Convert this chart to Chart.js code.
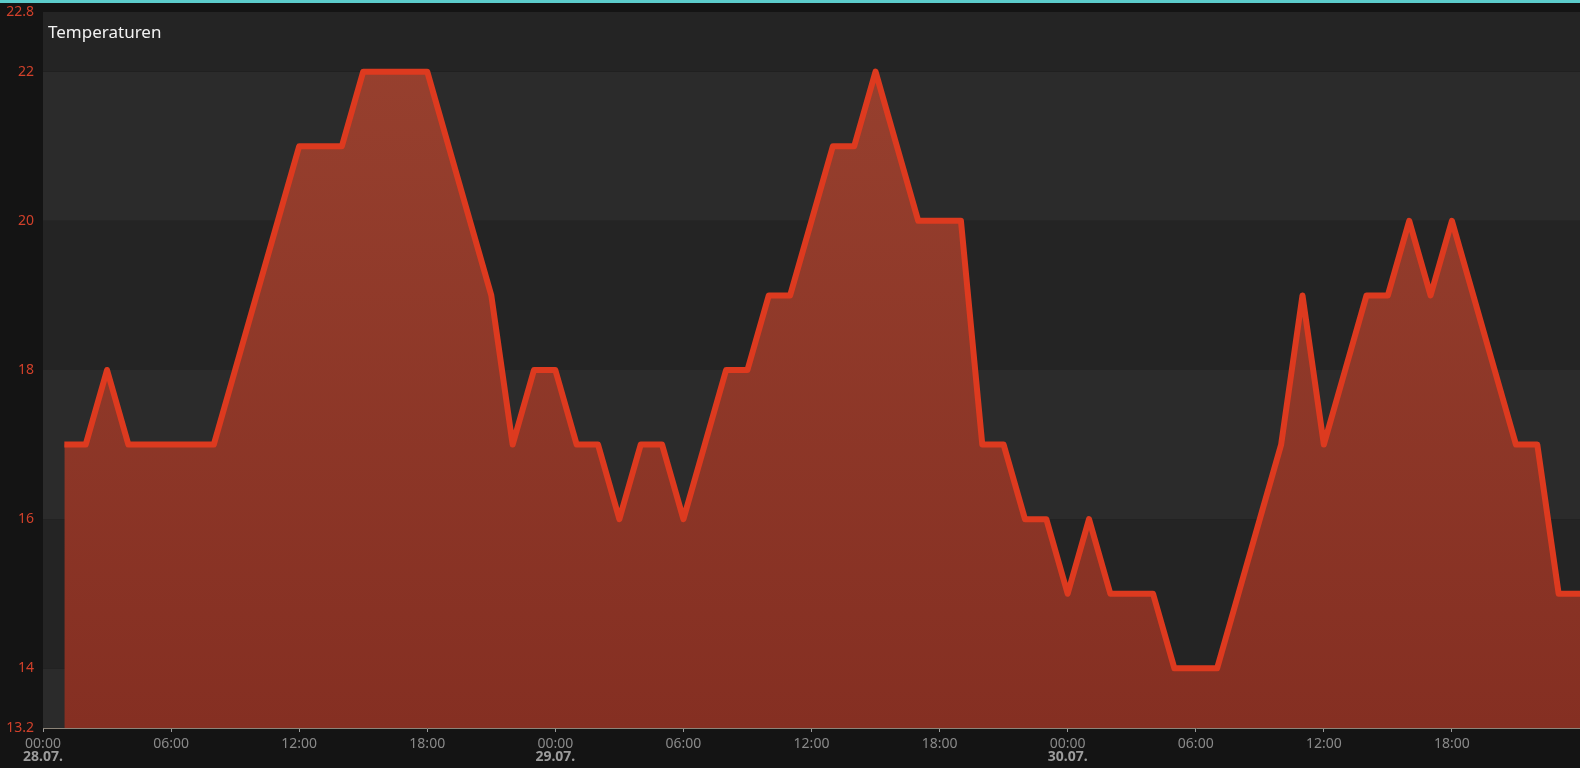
<!DOCTYPE html>
<html>
<head>
<meta charset="utf-8">
<script src="https://cdn.jsdelivr.net/npm/chart.js@4"></script>
<style>
  html, body { margin: 0; padding: 0; background: #141414; overflow: hidden; }
  canvas { display: block; }
</style>
</head>
<body>
<canvas id="chart" width="1580" height="768"></canvas>
<script>
// Stunden ab 28.07. 00:00
const hours = [1, 2, 3, 4, 5, 6, 7, 8, 9, 10, 11, 12, 13, 14, 15, 16, 17, 18, 19, 20, 21, 22, 23, 24,
  25, 26, 27, 28, 29, 30, 31, 32, 33, 34, 35, 36, 37, 38, 39, 40, 41, 42, 43, 44, 45, 46, 47, 48,
  49, 50, 51, 52, 53, 54, 55, 56, 57, 58, 59, 60, 61, 62, 63, 64, 65, 66, 67, 68, 69, 70, 71, 72];
const temperaturen = [17, 17, 18, 17, 17, 17, 17, 17, 18, 19, 20, 21, 21, 21, 22, 22, 22, 22, 21, 20, 19, 17, 18, 18,
  17, 17, 16, 17, 17, 16, 17, 18, 18, 19, 19, 20, 21, 21, 22, 21, 20, 20, 20, 17, 17, 16, 16, 15,
  16, 15, 15, 15, 14, 14, 14, 15, 16, 17, 19, 17, 18, 19, 19, 20, 19, 20, 19, 18, 17, 17, 15, 15];
const yTicks = [13.2, 14, 16, 18, 20, 22, 22.8];
const hourTicks = [0, 6, 12, 18, 24, 30, 36, 42, 48, 54, 60, 66];
const dayTicks = [0, 24, 48];
const dayLabels = ['28.07.', '29.07.', '30.07.'];

const FONT = '"Noto Sans", sans-serif';

const hintergrund = {
  id: 'hintergrund',
  beforeDraw(chart) {
    const ctx = chart.ctx;
    const area = chart.chartArea;
    const y = chart.scales.y;
    ctx.save();
    ctx.fillStyle = '#141414';
    ctx.fillRect(0, 0, chart.width, chart.height);
    for (let i = 0; i < yTicks.length - 1; i++) {
      const top = y.getPixelForValue(yTicks[i + 1]);
      const bottom = y.getPixelForValue(yTicks[i]);
      ctx.fillStyle = (yTicks.length - 2 - i) % 2 === 0 ? '#242424' : '#2b2b2b';
      ctx.fillRect(area.left, top, area.right - area.left, bottom - top);
    }
    ctx.restore();
  },
  afterDraw(chart) {
    const ctx = chart.ctx;
    ctx.save();
    ctx.fillStyle = '#5ccccb';
    ctx.fillRect(0, 0, chart.width, 3);
    ctx.fillStyle = '#f2f2f2';
    ctx.font = '17px ' + FONT;
    ctx.textBaseline = 'middle';
    ctx.fillText('Temperaturen', chart.chartArea.left + 5, 33);
    ctx.restore();
  }
};

function fuellung(context) {
  const area = context.chart.chartArea;
  if (!area) return '#8a3326';
  const g = context.chart.ctx.createLinearGradient(0, area.top, 0, area.bottom);
  g.addColorStop(0, '#98412f');
  g.addColorStop(1, '#852f22');
  return g;
}

new Chart(document.getElementById('chart'), {
  type: 'line',
  data: {
    datasets: [{
      label: 'Temperaturen',
      data: hours.map((h, i) => ({ x: h, y: temperaturen[i] })),
      borderColor: '#dd3a1f',
      borderWidth: 6,
      borderJoinStyle: 'round',
      backgroundColor: fuellung,
      fill: 'start',
      pointRadius: 0,
      tension: 0
    }]
  },
  options: {
    responsive: false,
    devicePixelRatio: 1,
    animation: false,
    layout: { padding: { top: 12, right: 0, left: 0, bottom: 0 } },
    plugins: {
      legend: { display: false },
      tooltip: { enabled: false }
    },
    scales: {
      x: {
        type: 'linear',
        position: 'bottom',
        min: 0,
        max: 72,
        afterBuildTicks: (scale) => { scale.ticks = hourTicks.map(v => ({ value: v })); },
        afterFit: (scale) => { scale.height = 21; },
        grid: { drawOnChartArea: false, tickLength: 4, tickColor: '#9a9a9a' },
        border: { color: '#8c8478', width: 1 },
        ticks: {
          maxRotation: 0,
          padding: 4,
          color: '#8a8a8a',
          font: { family: FONT, size: 14 },
          callback: (v) => String(v % 24).padStart(2, '0') + ':00'
        }
      },
      x2: {
        type: 'linear',
        position: 'bottom',
        min: 0,
        max: 72,
        afterBuildTicks: (scale) => { scale.ticks = dayTicks.map(v => ({ value: v })); },
        afterFit: (scale) => { scale.height = 19; },
        grid: { display: false, drawTicks: false },
        border: { display: false },
        ticks: {
          maxRotation: 0,
          padding: 0,
          color: '#9c9c9c',
          font: { family: FONT, size: 14, weight: 'bold' },
          callback: (v) => dayLabels[dayTicks.indexOf(v)]
        }
      },
      y: {
        min: 13.2,
        max: 22.8,
        afterBuildTicks: (scale) => { scale.ticks = yTicks.map(v => ({ value: v })); },
        afterFit: (scale) => {
          scale.width = 43;
          scale.paddingTop = 0;
          scale.paddingBottom = 0;
        },
        grid: { display: false, drawTicks: false },
        border: { display: false },
        ticks: {
          padding: 9,
          color: '#d2412b',
          font: { family: FONT, size: 14 },
          callback: (v) => String(v)
        }
      }
    }
  },
  plugins: [hintergrund]
});
</script>
</body>
</html>
